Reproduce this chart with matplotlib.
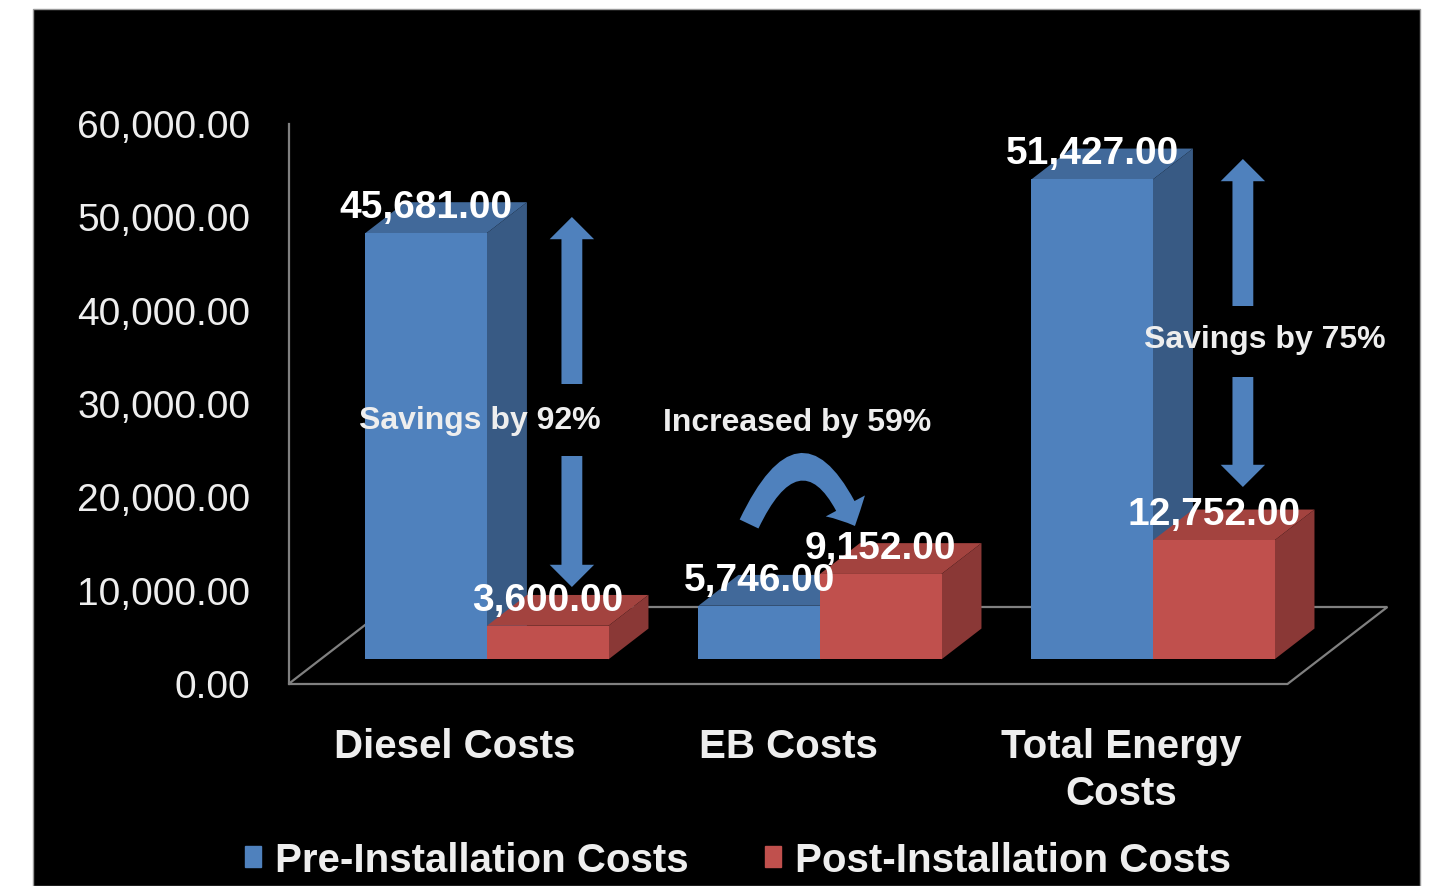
import numpy as np
import matplotlib.pyplot as plt
from matplotlib.patches import Polygon, Rectangle, Patch

# chart data
categories = ["Diesel Costs", "EB Costs", "Total Energy\nCosts"]
pre_costs = [45681.00, 5746.00, 51427.00]
post_costs = [3600.00, 9152.00, 12752.00]
series_names = ["Pre-Installation Costs", "Post-Installation Costs"]
y_ticks = [0, 10000, 20000, 30000, 40000, 50000, 60000]
notes = ["Savings by 92%", "Increased by 59%", "Savings by 75%"]

plt.rcParams['font.family'] = ['Liberation Sans', 'DejaVu Sans']

# colours (front, top, side)
BLUE = ("#4f81bd", "#41699a", "#385a84")
RED = ("#c0504d", "#a3433f", "#8a3836")
TXT = "#eeeeee"
GRID = "#808080"

W, H = 1433, 887
fig = plt.figure(figsize=(W / 100, H / 100), dpi=100, facecolor="white")
fig.add_artist(Rectangle((33 / W, 0), (1420 - 33) / W, (H - 10) / H,
                         transform=fig.transFigure, facecolor="black",
                         edgecolor="#9a9a9a", lw=1, zorder=-1))

ax = fig.add_axes([0, 0, 1, 1])
ax.set_axis_off()

# mapping: front plane, value 0 at 685px, 60000 at 125px; categories 333px apart
k = 560 / 60000.0
ax.set_ylim(-(H - 685) / k, 685 / k)
ax.set_xlim(-455 / 333.0, (W - 455) / 333.0)

# pseudo-3d depth
DX, DY = 0.30, 8250.0
T0, T1 = 0.32, 0.72
BW = 0.365

# floor + value axis
ax.plot([-0.5, -0.5], [0, y_ticks[-1]], color=GRID, lw=1.6, zorder=1)
floor = Polygon([(-0.5, 0), (2.5, 0), (2.5 + DX, DY), (-0.5 + DX, DY)],
                closed=True, fill=False, edgecolor=GRID, lw=1.6, zorder=1)
ax.add_patch(floor)

for t in y_ticks:
    ax.text(-0.615, t - 320, f"{t:,.2f}", ha="right", va="center",
            fontsize=28, color=TXT)

for i, cat in enumerate(categories):
    ax.text(i, -4650, cat, ha="center", va="top", fontsize=29,
            fontweight="bold", color=TXT, linespacing=1.28)
    for j, (vals, col) in enumerate([(pre_costs, BLUE), (post_costs, RED)]):
        v = vals[i]
        x0 = i - BW + j * BW
        fx, fy = x0 + T0 * DX, T0 * DY
        bx, by = x0 + T1 * DX, T1 * DY
        z = 3 + j
        top = Polygon([(fx, fy + v), (fx + BW, fy + v), (bx + BW, by + v), (bx, by + v)],
                      closed=True, facecolor=col[1], edgecolor="none", zorder=z)
        side = Polygon([(fx + BW, fy), (bx + BW, by), (bx + BW, by + v), (fx + BW, fy + v)],
                       closed=True, facecolor=col[2], edgecolor="none", zorder=z)
        ax.add_patch(top)
        ax.add_patch(side)
        ax.bar(fx, v, width=BW, bottom=fy, align="edge", color=col[0],
               edgecolor="none", zorder=z + 0.5)
        ax.text(fx + BW / 2, v + fy + 2800, f"{v:,.2f}", ha="center", va="center",
                fontsize=28, fontweight="bold", color="white", zorder=10)

# annotation arrows
arrow_style = "simple,head_length=1.6,head_width=3.2,tail_width=1.5"


def block_arrow(xy_from, xy_to, rad=0.0):
    ax.annotate("", xy=xy_to, xytext=xy_from,
                arrowprops=dict(arrowstyle=arrow_style, mutation_scale=10,
                                color=BLUE[0], lw=0, shrinkA=0, shrinkB=0,
                                connectionstyle=f"arc3,rad={rad}"),
                zorder=8)


block_arrow((0.351, 32143), (0.351, 50036))
block_arrow((0.351, 24429), (0.351, 10393))
block_arrow((2.366, 40500), (2.366, 56250))
block_arrow((2.366, 32893), (2.366, 21107))
block_arrow((0.883, 17143), (1.201, 16929), rad=-1.1)

ax.text(0.075, 28286, notes[0], ha="center", va="center", fontsize=23,
        fontweight="bold", color=TXT, zorder=9)
ax.text(1.027, 28071, notes[1], ha="center", va="center", fontsize=23,
        fontweight="bold", color=TXT, zorder=9)
ax.text(2.432, 36964, notes[2], ha="center", va="center", fontsize=23,
        fontweight="bold", color=TXT, zorder=9)

handles = [Patch(color=BLUE[0]), Patch(color=RED[0])]
fig.legend(handles, series_names, loc="center", bbox_to_anchor=(738 / W, 1 - 861 / H),
           ncol=2, frameon=False, prop=dict(size=29, weight="bold"), labelcolor=TXT,
           handlelength=0.4, handleheight=0.4, handletextpad=0.35, columnspacing=1.9)

fig.savefig("out.png", dpi=100, facecolor="white")
